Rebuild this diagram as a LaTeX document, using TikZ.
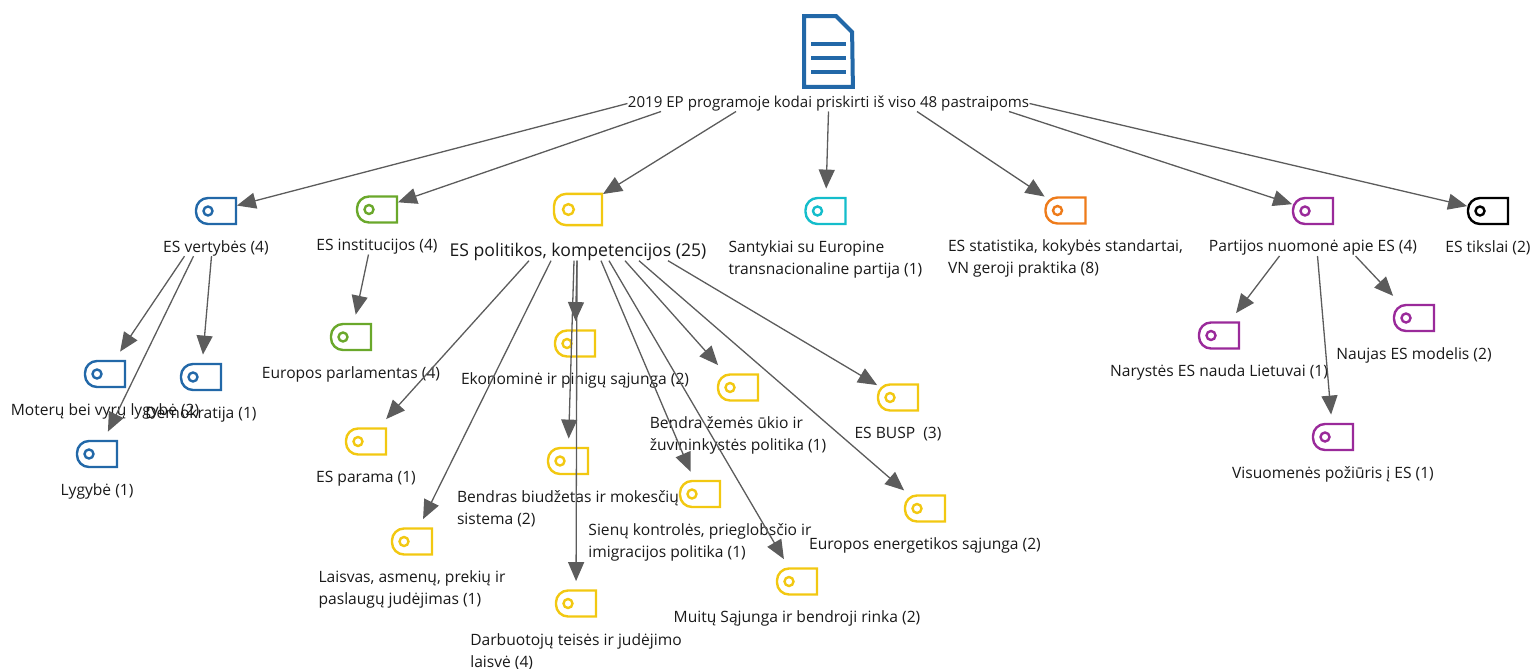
\documentclass[tikz,border=0pt]{standalone}
\usepackage{fontspec}
\setmainfont{Open Sans}
\usepackage{xcolor}
\usepackage{tikz}
\usetikzlibrary{arrows.meta, calc}
\definecolor{tagblue}{HTML}{2268A8}
\definecolor{taggreen}{HTML}{6AA82B}
\definecolor{tagyellow}{HTML}{F2C811}
\definecolor{tagcyan}{HTML}{14BDCB}
\definecolor{tagorange}{HTML}{EE7B1A}
\definecolor{tagpurple}{HTML}{9A2A9A}
\definecolor{conngray}{HTML}{5C5C5C}
\tikzstyle{codetag} = [rectangle, inner sep = 0, minimum height = 22pt, draw = none]
\tikzstyle{codename} = [rectangle, inner sep = 0, align = left, text = black!90, font = \fontsize{7.8}{11}\selectfont, node distance = 18.5pt]
\tikzstyle{tagline} = [line width = 1.2pt]
\tikzstyle{conn} = [-{Triangle[length = 9.5pt, width = 8pt]}, draw = conngray, line width = 0.65pt]
\newcommand{\codeicon}[5][1]{%
	\node (#2)[codetag, minimum width = #1*20.5pt] at (#3,#4){};
	\begin{scope}[shift = {(#3,#4)}, scale = #1]
		\draw [tagline, #5] (20,-13) -- (20,13) [rounded corners = 6pt] -- (-20,13) -- (-20,-13) [sharp corners] -- cycle;
		\draw [tagline, #5] (-8,0) circle (4.5);
	\end{scope}}
\begin{document}
\begin{tikzpicture}[x = 0.5pt, y = -0.5pt]
	\useasboundingbox (0,0) rectangle (1531,669);
	% document icon
	\node (doc)[rectangle, inner sep = 0, minimum width = 24pt, minimum height = 35pt] at (828.5,51.5){};
	\draw [tagblue, line width = 2pt] (doc.north west) -- ++(32,0) -- ++(16,16) -- (doc.south east) -- (doc.south west) -- cycle;
	\draw [tagblue, line width = 2.3pt] (811,44) -- (846,44) (811,58) -- (846,58) (811,72) -- (846,72);
	\node (rootname)[codename, below of = doc, node distance = 26pt, font = \fontsize{7.55}{11}\selectfont]{2019 EP programoje kodai priskirti iš viso 48 pastraipoms};
	
	% first level
	\codeicon{verttag}{216}{211}{tagblue}
	\codeicon{insttag}{377}{209.5}{taggreen}
	\codeicon[1.2]{poltag}{578}{209.5}{tagyellow}
	\codeicon{santtag}{825.5}{211}{tagcyan}
	\codeicon{stattag}{1065.5}{210.5}{tagorange}
	\codeicon{parttag}{1313}{211}{tagpurple}
	\codeicon{tikstag}{1488}{211}{black}
	
	\node (vertname)[codename, below of = verttag]{ES vertybės (4)};
	\node (instname)[codename, below of = insttag]{ES institucijos (4)};
	\node (polname)[codename, below of = poltag, yshift = -2.5pt, font = \fontsize{8.8}{11}\selectfont]{ES politikos, kompetencijos (25)};
	\node (santname)[codename, below of = santtag, yshift = -5.5pt]{Santykiai su Europine\\transnacionaline partija (1)};
	\node (statname)[codename, below of = stattag, yshift = -5.5pt]{ES statistika, kokybės standartai,\\VN geroji praktika (8)};
	\node (partname)[codename, below of = parttag]{Partijos nuomonė apie ES (4)};
	\node (tiksname)[codename, below of = tikstag]{ES tikslai (2)};
	
	% second level
	\codeicon{motetag}{105}{374}{tagblue}
	\codeicon{demotag}{201}{377}{tagblue}
	\codeicon{lygtag}{97}{454}{tagblue}
	\codeicon{parltag}{351}{337}{taggreen}
	\codeicon{paratag}{366}{441.5}{tagyellow}
	\codeicon{laistag}{412}{541.5}{tagyellow}
	\codeicon{ekontag}{575}{343.5}{tagyellow}
	\codeicon{biudtag}{568}{461}{tagyellow}
	\codeicon{darbtag}{576}{603.5}{tagyellow}
	\codeicon{sienutag}{700}{494}{tagyellow}
	\codeicon{muittag}{797}{581.5}{tagyellow}
	\codeicon{zemetag}{738}{387.5}{tagyellow}
	\codeicon{enertag}{925}{508.5}{tagyellow}
	\codeicon{busptag}{898}{397.5}{tagyellow}
	\codeicon{narytag}{1219}{335.5}{tagpurple}
	\codeicon{viestag}{1333}{437}{tagpurple}
	\codeicon{modetag}{1414}{318}{tagpurple}
	
	\node (motename)[codename, below of = motetag]{Moterų bei vyrų lygybė (2)};
	\node (demoname)[codename, below of = demotag]{Demokratija (1)};
	\node (lygname)[codename, below of = lygtag]{Lygybė (1)};
	\node (parlname)[codename, below of = parltag]{Europos parlamentas (4)};
	\node (paraname)[codename, below of = paratag]{ES parama (1)};
	\node (laisname)[codename, below of = laistag, yshift = -5.5pt]{Laisvas, asmenų, prekių ir\\paslaugų judėjimas (1)};
	\node (ekonname)[codename, below of = ekontag]{Ekonominė ir pinigų sąjunga (2)};
	\node (biudname)[codename, below of = biudtag, yshift = -5.5pt]{Bendras biudžetas ir mokesčių\\sistema (2)};
	\node (darbname)[codename, below of = darbtag, yshift = -5.5pt]{Darbuotojų teisės ir judėjimo\\laisvė (4)};
	\node (sienuname)[codename, below of = sienutag, yshift = -5.5pt]{Sienų kontrolės, prieglobsčio ir\\imigracijos politika (1)};
	\node (muitname)[codename, below of = muittag]{Muitų Sąjunga ir bendroji rinka (2)};
	\node (zemename)[codename, below of = zemetag, yshift = -5.5pt]{Bendra žemės ūkio ir\\žuvininkystės politika (1)};
	\node (enername)[codename, below of = enertag]{Europos energetikos sąjunga (2)};
	\node (buspname)[codename, below of = busptag]{ES BUSP~ (3)};
	\node (naryname)[codename, below of = narytag]{Narystės ES nauda Lietuvai (1)};
	\node (viesname)[codename, below of = viestag]{Visuomenės požiūris į ES (1)};
	\node (modename)[codename, below of = modetag]{Naujas ES modelis (2)};
	
	\draw [conn] (rootname.west) -- (verttag);
	\draw [conn] ($(rootname.south)+(-167.5,0)$) -- (insttag);
	\draw [conn] ($(rootname.south)+(-92.5,0)$) -- (poltag);
	\draw [conn] (rootname.south) -- (santtag);
	\draw [conn] ($(rootname.south)+(88.5,0)$) -- (stattag);
	\draw [conn] ($(rootname.south)+(180.5,0)$) -- (parttag);
	\draw [conn] (rootname.east) -- (tikstag);
	
	\draw [conn] ($(vertname.south)+(-31.5,0)$) -- (motetag);
	\draw [conn] ($(vertname.south)+(-22.5,0)$) -- (lygtag);
	\draw [conn] ($(vertname.south)+(-4.5,0)$) -- (demotag);
	\draw [conn] ($(instname.south)+(-8.5,0)$) -- (parltag);
	
	\draw [conn] ($(polname.south)+(-49,0)$) -- (paratag);
	\draw [conn] ($(polname.south)+(-27,0)$) -- (laistag);
	\draw [conn] ($(polname.south)+(-1,0)$) -- (ekontag);
	\draw [conn] ($(polname.south)+(-4,0)$) -- (biudtag);
	\draw [conn] ($(polname.south)+(-1,0)$) -- (darbtag);
	\draw [conn] ($(polname.south)+(23,0)$) -- (sienutag);
	\draw [conn] ($(polname.south)+(31,0)$) -- (muittag);
	\draw [conn] ($(polname.south)+(47,0)$) -- (zemetag);
	\draw [conn] ($(polname.south)+(61,0)$) -- (enertag);
	\draw [conn] ($(polname.south)+(90,0)$) -- (busptag);
	
	\draw [conn] ($(partname.south)+(-33.5,0)$) -- (narytag);
	\draw [conn] ($(partname.south)+(4.5,0)$) -- (viestag);
	\draw [conn] ($(partname.south)+(42.5,0)$) -- (modetag);
\end{tikzpicture}
\end{document}
